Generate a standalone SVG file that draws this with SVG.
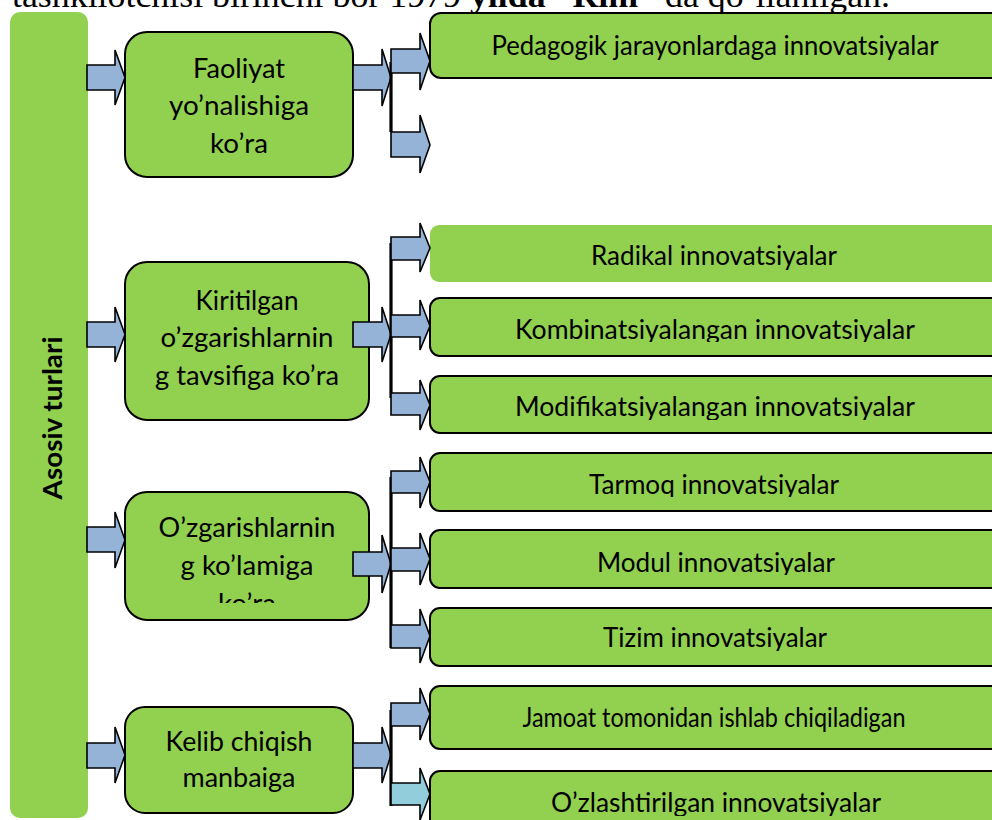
<svg xmlns="http://www.w3.org/2000/svg" width="992" height="820" viewBox="0 0 992 820">
<style>
.bg{fill:#ffffff}
.g{fill:#92D050}
.box{fill:#92D050;stroke:#000;stroke-width:2}
.arr{fill:#95B3D7;stroke:#000;stroke-width:1.6;stroke-linejoin:miter}
.arr2{fill:#92CDDC;stroke:#000;stroke-width:1.6}
.br{stroke:#000;stroke-width:3.2;fill:none}
.t{font-family:Lato,"Noto Sans",sans-serif;font-size:26px;fill:#000;text-anchor:middle}
.vt{font-family:Lato,"Noto Sans",sans-serif;font-size:27px;font-weight:bold;fill:#000;text-anchor:middle}
.top{font-family:"Liberation Serif","Times New Roman",serif;font-size:33px;fill:#000}
</style>
<defs>
<clipPath id="c3"><rect x="125" y="490" width="245" height="113"/></clipPath>
<clipPath id="ck"><rect x="430" y="298" width="600" height="44"/></clipPath>
<clipPath id="cm"><rect x="430" y="376" width="600" height="44"/></clipPath>
<clipPath id="ct"><rect x="430" y="453" width="600" height="44"/></clipPath>
<clipPath id="cmo"><rect x="430" y="530" width="600" height="45"/></clipPath>
<clipPath id="cti"><rect x="430" y="608" width="600" height="43"/></clipPath>
<clipPath id="co"><rect x="430" y="771" width="600" height="45"/></clipPath>
</defs>
<rect class="bg" x="0" y="0" width="992" height="820"/>

<text class="top" x="12" y="7" textLength="878" lengthAdjust="spacingAndGlyphs">tashkilotchisi birinchi bor 1979 <tspan font-weight="bold">yilda “Rim”</tspan> da qo‘llanilgan.</text>

<g id="main">
<rect class="g" x="10" y="12" width="78" height="806" rx="10"/>
<text class="vt" transform="translate(62,418) rotate(-90)" textLength="163" lengthAdjust="spacingAndGlyphs">Asosiv turlari</text>
</g>

<g id="cat1">
<rect class="box" x="125" y="32" width="228" height="145" rx="22"/>
<text class="t" x="239" y="78" textLength="92" lengthAdjust="spacingAndGlyphs">Faoliyat</text>
<text class="t" x="239" y="115" textLength="140" lengthAdjust="spacingAndGlyphs">yo’nalishiga</text>
<text class="t" x="239" y="153" textLength="58" lengthAdjust="spacingAndGlyphs">ko’ra</text>
</g>

<g id="cat2">
<rect class="box" x="125" y="262" width="244" height="158" rx="22"/>
<text class="t" x="247" y="310" textLength="103" lengthAdjust="spacingAndGlyphs">Kiritilgan</text>
<text class="t" x="247" y="347" textLength="173" lengthAdjust="spacingAndGlyphs">o’zgarishlarnin</text>
<text class="t" x="247" y="385" textLength="184" lengthAdjust="spacingAndGlyphs">g tavsifiga ko’ra</text>
</g>

<g id="cat3">
<rect class="box" x="125" y="492" width="244" height="128" rx="22"/>
<g clip-path="url(#c3)">
<text class="t" x="247" y="537" textLength="177" lengthAdjust="spacingAndGlyphs">O’zgarishlarnin</text>
<text class="t" x="247" y="575" textLength="133" lengthAdjust="spacingAndGlyphs">g ko’lamiga</text>
<text class="t" x="247" y="613" textLength="58" lengthAdjust="spacingAndGlyphs">ko’ra</text>
</g>
</g>

<g id="cat4">
<rect class="box" x="125" y="707" width="228" height="106" rx="20"/>
<text class="t" x="239" y="751" textLength="147" lengthAdjust="spacingAndGlyphs">Kelib chiqish</text>
<text class="t" x="239" y="787" textLength="113" lengthAdjust="spacingAndGlyphs">manbaiga</text>
</g>

<g id="r1">
<rect class="box" x="430" y="13" width="580" height="65" rx="11"/>
<text class="t" x="715" y="55" textLength="447" lengthAdjust="spacingAndGlyphs">Pedagogik jarayonlardaga innovatsiyalar</text>
</g>

<g id="r2">
<rect class="g" x="430" y="225" width="580" height="57" rx="9"/>
<text class="t" x="714" y="265" textLength="246" lengthAdjust="spacingAndGlyphs">Radikal innovatsiyalar</text>
</g>

<g id="r3">
<rect class="box" x="430" y="298" width="580" height="58" rx="10"/>
<text class="t" x="715" y="339" textLength="400" lengthAdjust="spacingAndGlyphs" clip-path="url(#ck)">Kombinatsiyalangan innovatsiyalar</text>
</g>

<g id="r4">
<rect class="box" x="430" y="376" width="580" height="57" rx="10"/>
<text class="t" x="715" y="416" textLength="400" lengthAdjust="spacingAndGlyphs" clip-path="url(#cm)">Modifikatsiyalangan innovatsiyalar</text>
</g>

<g id="r5">
<rect class="box" x="430" y="453" width="580" height="58" rx="10"/>
<text class="t" x="714" y="494" textLength="250" lengthAdjust="spacingAndGlyphs" clip-path="url(#ct)">Tarmoq innovatsiyalar</text>
</g>

<g id="r6">
<rect class="box" x="430" y="530" width="580" height="58" rx="10"/>
<text class="t" x="716" y="572" textLength="238" lengthAdjust="spacingAndGlyphs" clip-path="url(#cmo)">Modul innovatsiyalar</text>
</g>

<g id="r7">
<rect class="box" x="430" y="608" width="580" height="58" rx="10"/>
<text class="t" x="715" y="647" textLength="224" lengthAdjust="spacingAndGlyphs" clip-path="url(#cti)">Tizim innovatsiyalar</text>
</g>

<g id="r8">
<rect class="box" x="430" y="686" width="580" height="63" rx="10"/>
<text class="t" x="714" y="727" textLength="383" lengthAdjust="spacingAndGlyphs">Jamoat tomonidan ishlab chiqiladigan</text>
</g>

<g id="r9">
<rect class="box" x="430" y="771" width="580" height="70" rx="10"/>
<text class="t" x="716" y="812" textLength="330" lengthAdjust="spacingAndGlyphs" clip-path="url(#co)">O’zlashtirilgan innovatsiyalar</text>
</g>

<g id="connectors">
<path class="arr" d="M87,65 H115 V50 L125,77.5 L115,105 V90 H87 Z"/>
<path class="arr" d="M87,322 H115 V307 L125,334.5 L115,362 V347 H87 Z"/>
<path class="arr" d="M87,527 H115 V512 L125,540 L115,568 V552 H87 Z"/>
<path class="arr" d="M87,743 H115 V727 L125,755 L115,783 V768 H87 Z"/>
<path class="arr" d="M353,65 H382 V49 L391,77.5 L382,106 V90 H353 Z"/>
<path class="arr" d="M353,322 H382 V307 L391,334.5 L382,362 V347 H353 Z"/>
<path class="arr" d="M353,552 H382 V535 L391,564 L382,593 V576 H353 Z"/>
<path class="arr" d="M353,743 H382 V727 L391,755 L382,783 V768 H353 Z"/>
<line class="br" x1="391" y1="62" x2="391" y2="132"/>
<line class="br" x1="391" y1="243" x2="391" y2="398"/>
<line class="br" x1="391" y1="477" x2="391" y2="648"/>
<line class="br" x1="391" y1="710" x2="391" y2="806"/>
<path class="arr" d="M391,49 H420 V33 L430,61 L420,90 V73 H391 Z"/>
<path class="arr" d="M391,132 H420 V115 L430,145 L420,173 V157 H391 Z"/>
<path class="arr" d="M391,237 H420 V223 L430,248 L420,272 V260 H391 Z"/>
<path class="arr" d="M391,315 H420 V300 L430,326 L420,350 V337 H391 Z"/>
<path class="arr" d="M391,393 H420 V380 L430,405 L420,430 V415 H391 Z"/>
<path class="arr" d="M391,471 H420 V457 L430,482 L420,508 V493 H391 Z"/>
<path class="arr" d="M391,548 H420 V533 L430,559 L420,585 V571 H391 Z"/>
<path class="arr" d="M391,625 H420 V609 L430,636 L420,663 V648 H391 Z"/>
<path class="arr" d="M391,703 H420 V688 L430,714 L420,740 V726 H391 Z"/>
<path class="arr2" d="M391,783 H420 V768 L430,794 L420,820 V805 H391 Z"/>
</g>
</svg>
